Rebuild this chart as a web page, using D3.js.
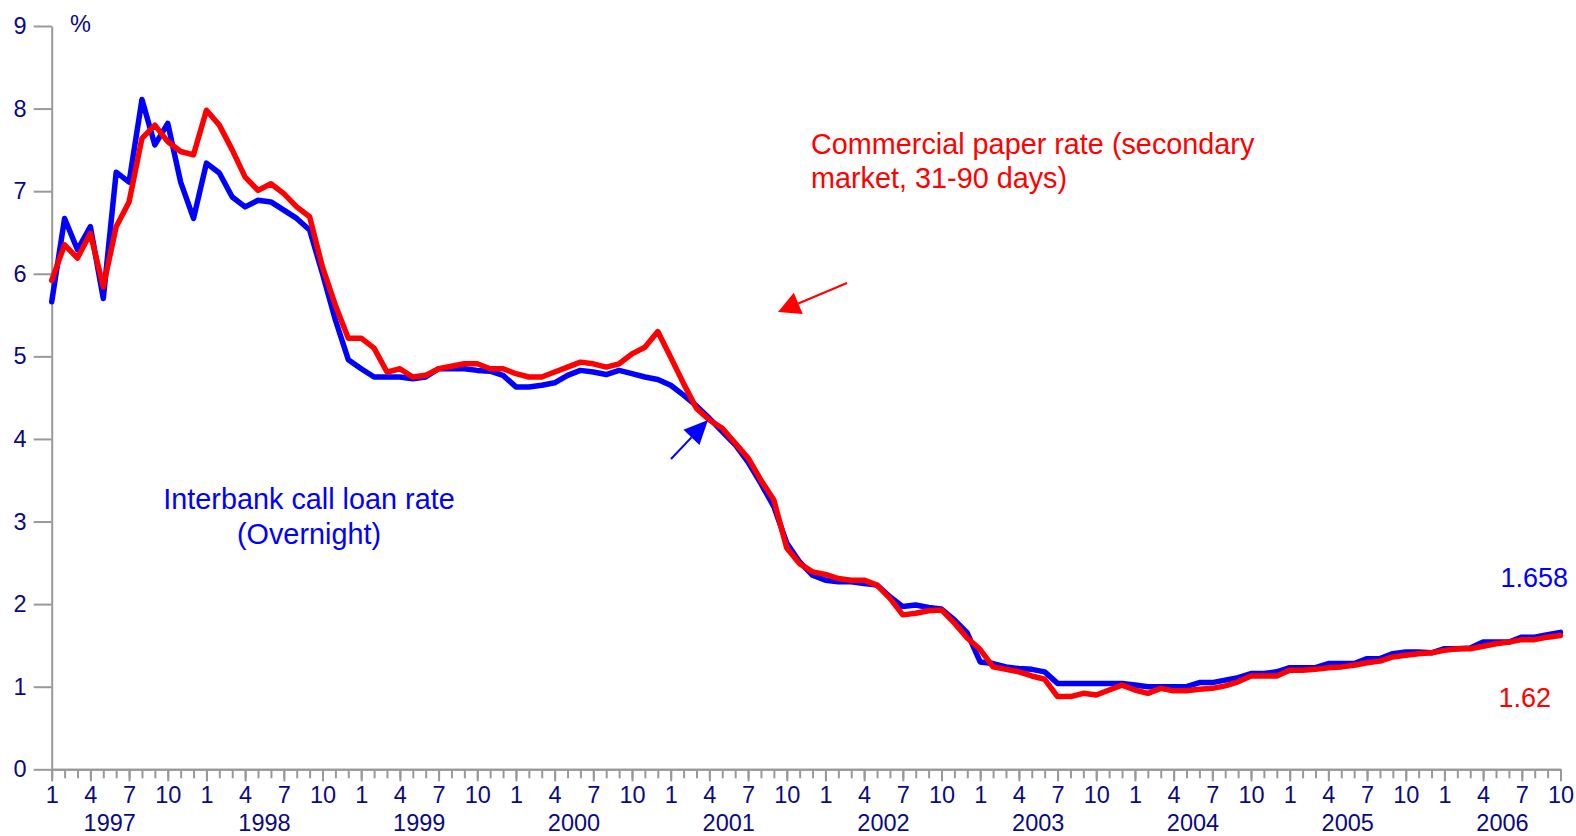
<!DOCTYPE html>
<html>
<head>
<meta charset="utf-8">
<script src="https://cdn.jsdelivr.net/npm/d3@7"></script>
<style>
  body { margin: 0; background: #fff; }
  svg { display: block; font-family: "Liberation Sans", Arial, sans-serif; }
</style>
</head>
<body>
<svg id="chart" width="1576" height="836"></svg>
<script>
// monthly data, Jan 1997 .. Oct 2006

var years = [1997, 1998, 1999, 2000, 2001, 2002, 2003, 2004, 2005, 2006];
var monthLabels = [1, 4, 7, 10];
var yTicks = [0, 1, 2, 3, 4, 5, 6, 7, 8, 9];

// Interbank call loan rate (overnight)
var callRate = [
  5.66, 6.67, 6.29, 6.57, 5.70, 7.23, 7.11, 8.11, 7.56, 7.82, 7.11, 6.67,
  7.34, 7.22, 6.93, 6.81, 6.89, 6.87, 6.77, 6.67, 6.53, 6.00, 5.44, 4.96,
  4.85, 4.75, 4.75, 4.75, 4.73, 4.75, 4.85, 4.85, 4.85, 4.83, 4.82, 4.77,
  4.63, 4.63, 4.65, 4.68, 4.77, 4.83, 4.81, 4.78, 4.83, 4.79, 4.75, 4.72,
  4.65, 4.53, 4.40, 4.25, 4.09, 3.93, 3.72, 3.46, 3.18, 2.74, 2.51, 2.35,
  2.29, 2.27, 2.27, 2.25, 2.23, 2.09, 1.97, 1.99, 1.96, 1.94, 1.81, 1.65,
  1.30, 1.28, 1.24, 1.22, 1.21, 1.18, 1.04, 1.04, 1.04, 1.04, 1.04, 1.04,
  1.02, 1.00, 1.00, 1.00, 1.00, 1.05, 1.05, 1.08, 1.11, 1.16, 1.16, 1.18,
  1.23, 1.23, 1.23, 1.28, 1.28, 1.28, 1.34, 1.34, 1.40, 1.42, 1.42, 1.41,
  1.46, 1.46, 1.47, 1.54, 1.54, 1.54, 1.60, 1.60, 1.63, 1.658
];

// Commercial paper rate (secondary market, 31-90 days)
var cpRate = [
  5.92, 6.35, 6.19, 6.49, 5.84, 6.57, 6.87, 7.64, 7.80, 7.60, 7.48, 7.44,
  7.98, 7.80, 7.50, 7.17, 7.01, 7.09, 6.97, 6.81, 6.69, 6.08, 5.62, 5.22,
  5.22, 5.10, 4.81, 4.85, 4.75, 4.77, 4.85, 4.88, 4.91, 4.91, 4.85, 4.85,
  4.79, 4.75, 4.75, 4.81, 4.87, 4.93, 4.91, 4.87, 4.91, 5.03, 5.11, 5.30,
  4.99, 4.67, 4.37, 4.23, 4.13, 3.95, 3.77, 3.50, 3.26, 2.68, 2.49, 2.39,
  2.36, 2.31, 2.29, 2.29, 2.23, 2.07, 1.87, 1.89, 1.92, 1.93, 1.77, 1.59,
  1.45, 1.24, 1.21, 1.18, 1.13, 1.09, 0.88, 0.88, 0.92, 0.90, 0.96, 1.02,
  0.96, 0.92, 0.98, 0.95, 0.95, 0.97, 0.98, 1.01, 1.06, 1.13, 1.13, 1.13,
  1.20, 1.20, 1.21, 1.23, 1.24, 1.26, 1.29, 1.31, 1.36, 1.38, 1.40, 1.41,
  1.44, 1.46, 1.46, 1.49, 1.52, 1.54, 1.57, 1.57, 1.60, 1.62
];

var navy = "#0a0a80";
var axisGrey = "#999999";
var labelSize = "23.5px";

var svg = d3.select("#chart");

var x = d3.scaleLinear().domain([0, callRate.length - 1]).range([51.7, 1560.5]);
var y = d3.scaleLinear().domain([0, 9]).range([769.3, 26]);

// y axis
var gY = svg.append("g").attr("transform", "translate(51.7,0)")
  .call(d3.axisLeft(y).tickValues(yTicks).tickSize(18).tickSizeOuter(0).tickPadding(7));

// x axis, minor ticks every month
var allMonths = d3.range(callRate.length);
var gXMinor = svg.append("g").attr("transform", `translate(0, ${y(0)})`)
  .call(d3.axisBottom(x).tickValues(allMonths).tickSize(9).tickSizeOuter(0).tickFormat(""));

// x axis, labelled months
var majorMonths = allMonths.filter(i => monthLabels.indexOf(i % 12 + 1) >= 0);
var gX = svg.append("g").attr("transform", `translate(0, ${y(0)})`)
  .call(d3.axisBottom(x).tickValues(majorMonths).tickSize(12).tickSizeOuter(0).tickPadding(5)
          .tickFormat(i => i % 12 + 1));

[gY, gXMinor, gX].forEach(g => {
  g.attr("font-size", null).attr("font-family", null);
  g.selectAll("path.domain").attr("stroke", axisGrey).attr("stroke-width", 2);
  g.selectAll(".tick line").attr("stroke", axisGrey).attr("stroke-width", 2);
  g.selectAll(".tick text").attr("fill", navy).style("font-size", labelSize);
});

// year labels
svg.append("g").selectAll("text")
  .data(years)
  .enter()
  .append("text")
  .attr("x", (d, i) => x(i * 12 + 4.5))
  .attr("y", 831)
  .attr("text-anchor", "middle")
  .attr("fill", navy)
  .style("font-size", labelSize)
  .text(d => d);

svg.append("text").attr("x", 70).attr("y", 32)
  .attr("fill", navy).style("font-size", labelSize).text("%");

// lines
var line = d3.line().x((d, i) => x(i)).y(d => y(d));

svg.append("path").datum(callRate)
  .attr("d", line).attr("fill", "none").attr("stroke", "#0000ff")
  .attr("stroke-width", 5.5).attr("stroke-linejoin", "round").attr("stroke-linecap", "round");

svg.append("path").datum(cpRate)
  .attr("d", line).attr("fill", "none").attr("stroke", "#ff0000")
  .attr("stroke-width", 5.5).attr("stroke-linejoin", "round").attr("stroke-linecap", "round");

// annotations
function arrow(x1, y1, x2, y2, colour, headLen, headW) {
  var ang = Math.atan2(y2 - y1, x2 - x1);
  var bx = x2 - headLen * Math.cos(ang), by = y2 - headLen * Math.sin(ang);
  var px = -Math.sin(ang) * headW / 2, py = Math.cos(ang) * headW / 2;
  svg.append("line").attr("x1", x1).attr("y1", y1).attr("x2", bx).attr("y2", by)
     .attr("stroke", colour).attr("stroke-width", 2);
  svg.append("path")
     .attr("d", `M${x2},${y2}L${bx + px},${by + py}L${bx - px},${by - py}Z`)
     .attr("fill", colour);
}

arrow(671, 459, 708, 420, "#0000ff", 24, 22);
arrow(847, 283, 778, 312, "#ff0000", 22, 23);

svg.append("text").attr("x", 309).attr("y", 509).attr("text-anchor", "middle")
  .attr("fill", "#0000ff").style("font-size", "28.8px").text("Interbank call loan rate");
svg.append("text").attr("x", 309).attr("y", 544).attr("text-anchor", "middle")
  .attr("fill", "#0000ff").style("font-size", "28.8px").text("(Overnight)");

svg.append("text").attr("x", 811).attr("y", 154)
  .attr("fill", "#ff0000").style("font-size", "28.8px").text("Commercial paper rate (secondary");
svg.append("text").attr("x", 811).attr("y", 188)
  .attr("fill", "#ff0000").style("font-size", "28.8px").text("market, 31-90 days)");

svg.append("text").attr("x", 1568).attr("y", 587).attr("text-anchor", "end")
  .attr("fill", "#0000ff").style("font-size", "27px").text("1.658");
svg.append("text").attr("x", 1551).attr("y", 707).attr("text-anchor", "end")
  .attr("fill", "#ff0000").style("font-size", "27px").text("1.62");
</script>
</body>
</html>
